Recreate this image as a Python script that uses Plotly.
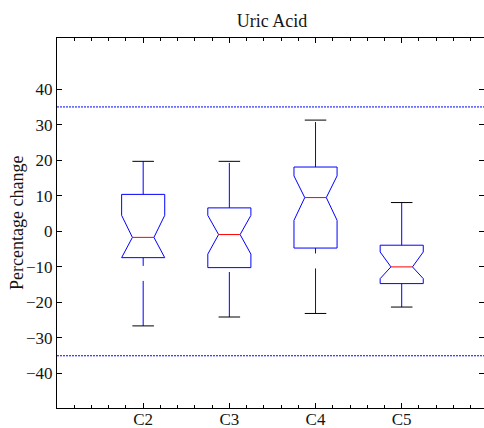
import plotly.graph_objects as go

# ---- data ----
categories = ["C2", "C3", "C4", "C5"]
upper_whisker = [19.7, 19.7, 31.3, 8.1]
q3 = [10.4, 6.6, 18.1, -3.9]
notch_hi = [4.5, 4.5, 15.6, -5.8]
median = [-1.7, -0.9, 9.5, -10.0]
notch_lo = [-7.4, -6.4, 3.1, -13.3]
q1 = [-7.4, -10.2, -4.7, -14.7]
lower_whisker = [-26.6, -24.1, -23.1, -21.3]
limits = [35, -35]
y_ticks = [-40, -30, -20, -10, 0, 10, 20, 30, 40]

BLUE = "rgb(0,0,255)"
RED = "rgb(255,0,0)"
BLACK = "rgb(0,0,0)"
FONT = "Liberation Serif"

box_hw = 0.25
notch_hw = 0.125
cap_hw = 0.125

fig = go.Figure()

for lim in limits:
    fig.add_trace(go.Scatter(x=[0, 5], y=[lim, lim], mode="lines",
                             line=dict(color=BLUE, width=1, dash="2px,1px"),
                             hoverinfo="skip", showlegend=False))

for i, cat in enumerate(categories):
    x = i + 1
    # whiskers (dashed, pattern starting at the caps)
    fig.add_trace(go.Scatter(x=[x, x], y=[lower_whisker[i], q1[i]], mode="lines",
                             line=dict(color=BLUE, width=1, dash="45px,15px"),
                             hoverinfo="skip", showlegend=False))
    fig.add_trace(go.Scatter(x=[x, x], y=[q3[i], upper_whisker[i]], mode="lines",
                             line=dict(color=BLUE, width=1, dash="45px,15px"),
                             hoverinfo="skip", showlegend=False))
    # caps
    for v in (upper_whisker[i], lower_whisker[i]):
        fig.add_trace(go.Scatter(x=[x - cap_hw, x + cap_hw], y=[v, v], mode="lines",
                                 line=dict(color=BLACK, width=1),
                                 hoverinfo="skip", showlegend=False))
    # notched box outline
    bx = [x - box_hw, x + box_hw, x + box_hw, x + notch_hw, x + box_hw, x + box_hw,
          x - box_hw, x - box_hw, x - notch_hw, x - box_hw, x - box_hw]
    by = [q3[i], q3[i], notch_hi[i], median[i], notch_lo[i], q1[i],
          q1[i], notch_lo[i], median[i], notch_hi[i], q3[i]]
    fig.add_trace(go.Scatter(x=bx, y=by, mode="lines",
                             line=dict(color=BLUE, width=1),
                             hoverinfo="skip", showlegend=False))
    # median
    fig.add_trace(go.Scatter(x=[x - notch_hw, x + notch_hw], y=[median[i], median[i]],
                             mode="lines", line=dict(color=RED, width=1),
                             hoverinfo="skip", showlegend=False))

fig.update_layout(
    width=484, height=428,
    margin=dict(l=57, r=0, t=38, b=20, autoexpand=False),
    paper_bgcolor="white", plot_bgcolor="white",
    font=dict(family=FONT, size=17, color="rgb(20,20,20)"),
    title=dict(text="Uric Acid", font=dict(family=FONT, size=18, color="rgb(20,20,20)"),
               x=(272 - 57) / 427, xref="paper", xanchor="center",
               y=1 - 20.5 / 428, yref="container", yanchor="middle", automargin=False),
    xaxis=dict(range=[0, 4.955], tickmode="array", tickvals=[1, 2, 3, 4],
               ticktext=categories, ticks="inside", ticklen=5, tickcolor=BLACK,
               showline=True, linecolor=BLACK, linewidth=1, mirror="ticks",
               showgrid=False, zeroline=False, automargin=False, ticklabelstandoff=-4,
               minor=dict(tickmode="linear", tick0=0, dtick=0.2, ticks="inside",
                          ticklen=3, tickcolor=BLACK, showgrid=False)),
    yaxis=dict(range=[-49.7, 54.4], tickmode="array", tickvals=y_ticks,
               ticks="inside", ticklen=5, tickcolor=BLACK, automargin=False,
               showline=True, linecolor=BLACK, linewidth=1, mirror="ticks",
               showgrid=False, zeroline=False),
    annotations=[dict(text="Percentage change", x=(17 - 57) / 427, y=0.5,
                      xref="paper", yref="paper", textangle=-90, showarrow=False,
                      xanchor="center", yanchor="middle",
                      font=dict(family=FONT, size=18, color="rgb(20,20,20)"))],
)

fig.write_html("out.html")
